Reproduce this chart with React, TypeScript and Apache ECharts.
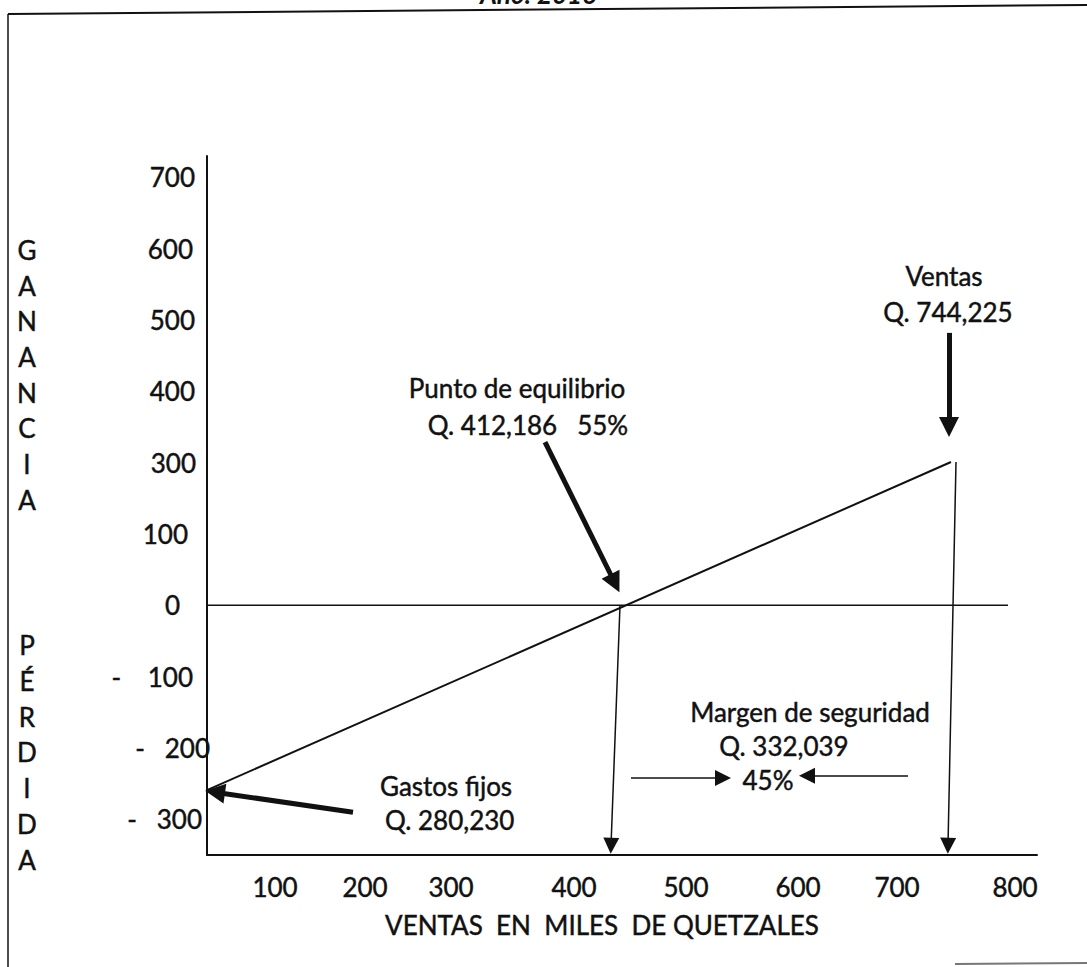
import React, { useEffect, useRef } from "react";
import * as echarts from "echarts";

// ---- data (axis units: x = miles de quetzales, y = ganancia / pérdida) ----
const xTickValues = [68, 158, 244, 367, 479, 591, 690, 808];
const xTickLabels = ["100", "200", "300", "400", "500", "600", "700", "800"];
const yTickValues = [-300, -200, -100, 0, 100, 200, 300, 400, 500, 600];
const yTickLabels = ["-   300", "-   200", "-    100", "0", "100", "300", "400", "500", "600", "700"];

const profitLine = [[0, -259], [744, 201]];
const zeroLine = [[0, 0], [801, 0]];
const breakEvenDrop = [[413, 0], [404, -337]];
const salesDrop = [[749, 201], [741, -337]];
const margenArrowRight = [[424, -242], [516, -242]];
const margenArrowLeft = [[701, -239], [600, -239]];
const gastosArrow = [[146, -290], [8, -262]];
const puntoArrow = [[338, 229], [408, 31]];
const ventasArrow = [[742, 382], [742, 250]];

const FONT = "Lato, 'Open Sans', sans-serif";
const INK = "#111";
const BORDER = 0.45;

// label right padding (style only)
const yLabelPad = [8, 0, 17, 30, 22, 14, 15, 15, 17, 15];

function seg(pts: number[][]) {
  return [{ coord: pts[0] }, { coord: pts[1] }];
}

export default function App() {
  const ref = useRef<HTMLDivElement>(null);
  useEffect(() => {
    if (!ref.current) return;
    const chart = echarts.init(ref.current, undefined, { renderer: "svg" });
    const rich: Record<string, any> = {};
    yLabelPad.forEach((p) => {
      rich["p" + p] = {
        fontFamily: FONT,
        fontSize: 26,
        color: INK,
        textBorderColor: INK,
        textBorderWidth: BORDER,
        padding: [0, p, 0, 0],
      };
    });
    const txt = (text: string, x: number, y: number, align = "center") => ({
      type: "text",
      x,
      y,
      style: {
        text,
        fill: INK,
        stroke: INK,
        lineWidth: BORDER,
        fontFamily: FONT,
        fontSize: 26,
        align,
        verticalAlign: "middle",
      },
    });
    chart.setOption({
      animation: false,
      backgroundColor: "#fff",
      grid: { left: 207, top: 156, width: 830, height: 699, containLabel: false, outerBoundsMode: "none" },
      xAxis: {
        type: "value",
        min: 0,
        max: 830,
        axisLine: { show: true, onZero: false, lineStyle: { color: INK, width: 2 } },
        axisTick: { show: false },
        splitLine: { show: false },
        axisLabel: {
          customValues: xTickValues,
          formatter: (v: number) => {
            const i = xTickValues.indexOf(v);
            return i >= 0 ? xTickLabels[i] : "";
          },
          color: INK,
          textBorderColor: INK,
          textBorderWidth: BORDER,
          fontFamily: FONT,
          fontSize: 26,
          margin: 19,
        },
        name: "VENTAS  EN  MILES  DE QUETZALES",
        nameLocation: "middle",
        nameGap: 57,
        nameTextStyle: {
          color: INK,
          textBorderColor: INK,
          textBorderWidth: BORDER,
          fontFamily: FONT,
          fontSize: 26,
          padding: [0, 40, 0, 0],
        },
      },
      yAxis: {
        type: "value",
        min: -350,
        max: 630,
        axisLine: { show: true, onZero: false, lineStyle: { color: INK, width: 2 } },
        axisTick: { show: false },
        splitLine: { show: false },
        axisLabel: {
          customValues: yTickValues,
          formatter: (v: number) => {
            const i = yTickValues.indexOf(v);
            if (i < 0) return "";
            return "{p" + yLabelPad[i] + "|" + yTickLabels[i] + "}";
          },
          color: INK,
          fontFamily: FONT,
          fontSize: 26,
          margin: -3,
          rich,
        },
      },
      series: [
        {
          type: "line",
          data: profitLine,
          symbol: "none",
          lineStyle: { color: INK, width: 2 },
          z: 3,
        },
        {
          type: "line",
          data: zeroLine,
          symbol: "none",
          lineStyle: { color: INK, width: 1.5 },
          markLine: {
            silent: true,
            symbol: ["none", "triangle"],
            symbolSize: 16,
            label: { show: false },
            lineStyle: { color: INK, type: "solid", width: 1.5 },
            itemStyle: { color: INK },
            data: [seg(breakEvenDrop), seg(salesDrop), seg(margenArrowRight), seg(margenArrowLeft)],
          },
        },
        {
          type: "line",
          data: [],
          symbol: "none",
          markLine: {
            silent: true,
            symbol: ["none", "triangle"],
            symbolSize: 20,
            label: { show: false },
            lineStyle: { color: INK, type: "solid", width: 5 },
            itemStyle: { color: INK },
            data: [seg(gastosArrow), seg(puntoArrow), seg(ventasArrow)],
          },
        },
      ],
      graphic: [
        { type: "line", shape: { x1: 8, y1: 14, x2: 1087, y2: 5 }, style: { stroke: INK, lineWidth: 2 } },
        { type: "line", shape: { x1: 8, y1: 14, x2: 8, y2: 967 }, style: { stroke: INK, lineWidth: 1.5 } },
        { type: "line", shape: { x1: 955, y1: 964, x2: 1087, y2: 963 }, style: { stroke: "#777", lineWidth: 2 } },
        {
          type: "text",
          x: 538,
          y: 7,
          style: {
            text: "Año: 2016",
            fill: INK,
            fontFamily: FONT,
            fontSize: 26,
            fontWeight: "bold",
            fontStyle: "italic",
            align: "center",
            verticalAlign: "bottom",
          },
        },
        {
          type: "text",
          x: 27,
          y: 232,
          style: {
            text: "G\nA\nN\nA\nN\nC\nI\nA",
            fill: INK,
            stroke: INK,
            lineWidth: BORDER,
            fontFamily: FONT,
            fontSize: 26,
            lineHeight: 35.7,
            align: "center",
            verticalAlign: "top",
          },
        },
        {
          type: "text",
          x: 27,
          y: 627,
          style: {
            text: "P\nÉ\nR\nD\nI\nD\nA",
            fill: INK,
            stroke: INK,
            lineWidth: BORDER,
            fontFamily: FONT,
            fontSize: 26,
            lineHeight: 35.8,
            align: "center",
            verticalAlign: "top",
          },
        },
        txt("Punto de equilibrio", 517, 388),
        txt("Q. 412,186   55%", 528, 425),
        txt("Ventas", 944, 276),
        txt("Q. 744,225", 948, 312),
        txt("Margen de seguridad", 810, 712),
        txt("Q. 332,039", 784, 746),
        txt("45%", 768, 780),
        txt("Gastos fijos", 380, 786, "left"),
        txt("Q. 280,230", 385, 820, "left"),
      ],
    });
    return () => chart.dispose();
  }, []);
  return (
    <div
      ref={ref}
      style={{ position: "fixed", left: 0, top: 0, width: 1087, height: 967, background: "#fff" }}
    />
  );
}
